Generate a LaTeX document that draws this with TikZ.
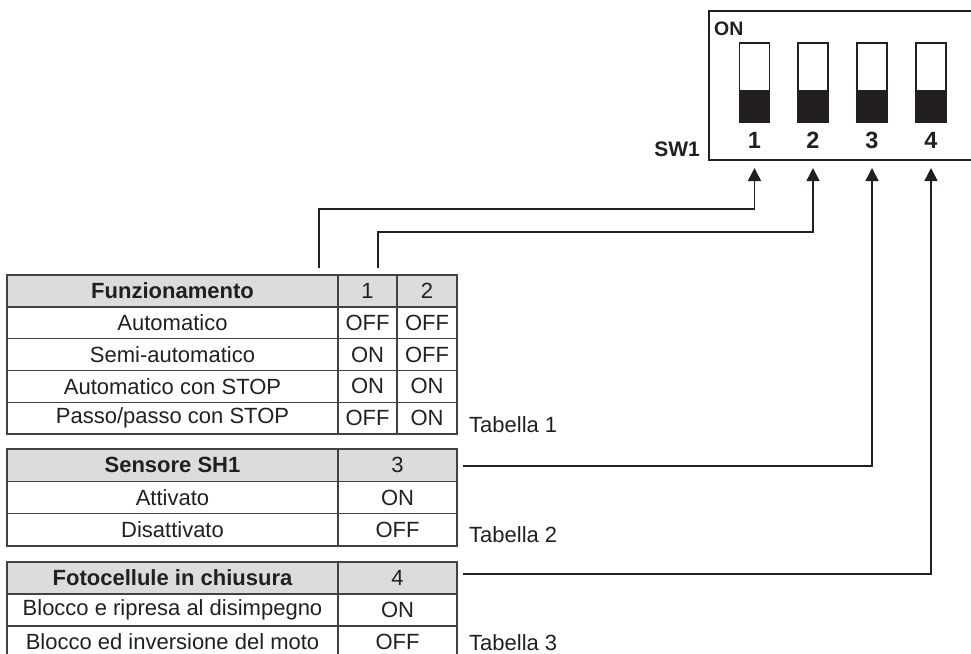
\documentclass[tikz,border=0pt]{standalone}
\usepackage{fontspec}
\setmainfont{Liberation Sans}
\usetikzlibrary{arrows.meta,calc}

\definecolor{ink}{HTML}{231F20}
\definecolor{headgray}{HTML}{DCDCDC}

\tikzset{
  cell/.style={draw=ink!85, line width=1.4pt, inner sep=0pt, text=ink,
    font=\fontsize{22}{24}\selectfont},
  headcell/.style={cell, fill=headgray},
  switchbox/.style={draw=ink, line width=1.5pt, minimum width=30pt, minimum height=79pt,
    path picture={\fill[ink] (path picture bounding box.south west)
      rectangle ([yshift=32pt]path picture bounding box.south east);}},
  swnum/.style={font=\fontsize{23.5}{26}\selectfont\bfseries, text=ink, anchor=base, inner sep=0pt},
  tablabel/.style={font=\fontsize{22}{24}\selectfont, text=ink, anchor=base west, inner sep=0pt},
  link/.style={draw=ink, line width=1.6pt},
  arrowlink/.style={link, -{Triangle[width=13pt,length=13pt]}}
}

\begin{document}
\begin{tikzpicture}[x=1pt, y=-1pt]
  \useasboundingbox (0,0) rectangle (971,653);

  % dip switch SW1
  \draw[ink, line width=1.6pt] (990,11) -| (709,160) -- (990,160);
  \node[font=\fontsize{19.5}{22}\selectfont\bfseries, text=ink, anchor=base west, inner sep=0pt] (on) at (714,35.5) {ON};
  \node[font=\fontsize{21}{24}\selectfont\bfseries, text=ink, anchor=base east, inner sep=0pt] (swname) at (700,156) {SW1};
  \foreach \n/\x in {1/754.5,2/813,3/872,4/931} {
    \node[switchbox] (sw\n) at (\x,82.5) {};
    \node[swnum] (n\n) at (\x,148.5) {\n};
    \coordinate (t\n) at (\x,168);
  }

  % tabella 1
  \node[headcell, minimum width=331pt, minimum height=31.8pt] (fa0) at (172.5,290.9) {\bfseries Funzionamento};
  \node[headcell, minimum width=59pt, minimum height=31.8pt] (fb0) at (367.5,290.9) {1};
  \node[headcell, minimum width=60pt, minimum height=31.8pt] (fc0) at (427,290.9) {2};
  \foreach \r/\y/\txt/\a/\b in {1/322.7/Automatico/OFF/OFF,
      2/354.5/Semi-automatico/ON/OFF,
      3/386.3/Automatico con STOP/ON/ON,
      4/418.1/Passo\slash passo con STOP/OFF/ON} {
    \node[cell, minimum width=331pt, minimum height=31.8pt] (fa\r) at (172.5,\y) {\txt};
    \node[cell, minimum width=59pt, minimum height=31.8pt] (fb\r) at (367.5,\y) {\a};
    \node[cell, minimum width=60pt, minimum height=31.8pt] (fc\r) at (427,\y) {\b};
  }
  \node[tablabel] (tab1) at (469,432) {Tabella 1};

  % tabella 2
  \node[headcell, minimum width=331pt, minimum height=32.3pt] (sa0) at (172.5,465.2) {\bfseries Sensore SH1};
  \node[headcell, minimum width=119pt, minimum height=32.3pt] (sb0) at (397.5,465.2) {3};
  \node[cell, minimum width=331pt, minimum height=32.3pt] (sa1) at (172.5,497.5) {Attivato};
  \node[cell, minimum width=119pt, minimum height=32.3pt] (sb1) at (397.5,497.5) {ON};
  \node[cell, minimum width=331pt, minimum height=32.3pt] (sa2) at (172.5,529.8) {Disattivato};
  \node[cell, minimum width=119pt, minimum height=32.3pt] (sb2) at (397.5,529.8) {OFF};
  \node[tablabel] (tab2) at (469,542) {Tabella 2};

  % tabella 3
  \node[headcell, minimum width=331pt, minimum height=32pt] (pa0) at (172.5,578) {\bfseries Fotocellule in chiusura};
  \node[headcell, minimum width=119pt, minimum height=32pt] (pb0) at (397.5,578) {4};
  \node[cell, minimum width=331pt, minimum height=32pt] (pa1) at (172.5,610) {Blocco e ripresa al disimpegno};
  \node[cell, minimum width=119pt, minimum height=32pt] (pb1) at (397.5,610) {ON};
  \node[cell, minimum width=331pt, minimum height=32pt] (pa2) at (172.5,642) {Blocco ed inversione del moto};
  \node[cell, minimum width=119pt, minimum height=32pt] (pb2) at (397.5,642) {OFF};
  \node[tablabel] (tab3) at (469,650) {Tabella 3};

  % collegamenti
  \coordinate (c1) at (319,268);
  \coordinate (c2) at (378,268);
  \coordinate (c3) at (463,466);
  \coordinate (c4) at (463,574);
  \draw[arrowlink] (c1) |- ($(t1)+(0,41)$) -- (t1);
  \draw[arrowlink] (c2) |- ($(t2)+(0,64)$) -- (t2);
  \draw[arrowlink] (c3) -| (t3);
  \draw[arrowlink] (c4) -| (t4);
\end{tikzpicture}
\end{document}
